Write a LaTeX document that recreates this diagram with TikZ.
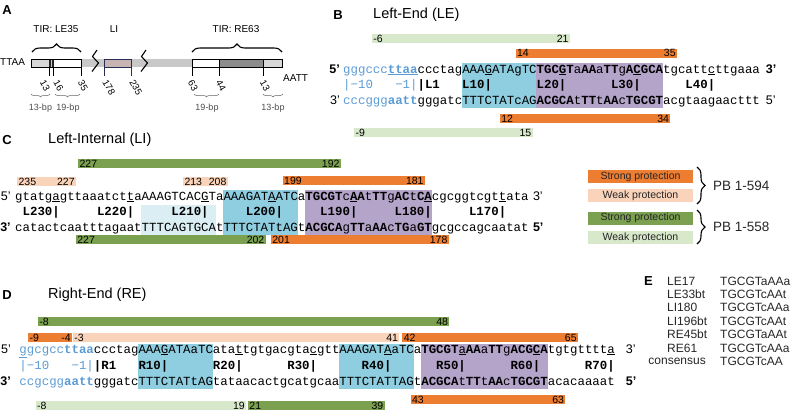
\documentclass[tikz,border=0pt]{standalone}
\usepackage{fontspec}
\setmainfont{Liberation Sans}
\setmonofont{Liberation Mono}
\usetikzlibrary{decorations.pathreplacing}

\definecolor{strongA}{RGB}{237,125,49}
\definecolor{weakA}{RGB}{250,212,186}
\definecolor{strongB}{RGB}{122,160,80}
\definecolor{weakB}{RGB}{216,232,202}
\definecolor{cyanbox}{RGB}{142,206,224}
\definecolor{palebox}{RGB}{218,238,244}
\definecolor{purplebox}{RGB}{180,164,202}
\definecolor{flank}{RGB}{91,155,213}
\definecolor{bargray}{RGB}{200,200,200}
\definecolor{boxgray}{RGB}{216,216,216}
\definecolor{segdark}{RGB}{140,140,140}
\definecolor{lifill}{RGB}{200,180,178}
\definecolor{liedge}{RGB}{40,45,85}

\newcommand\bd[1]{\textbf{#1}}
\newcommand\un[1]{\underline{#1}}
% protection bar: name, colour, from, to, top, left label, right label
\newcommand\pbbar[7]{%
  \fill[#2] (#3,#5) rectangle (#4,#5+9);
  \node[num, anchor=west] (#1a) at (#3,#5+4.5) {#6};
  \node[num, anchor=east] (#1b) at (#4,#5+4.5) {#7};}

\tikzset{
  seq/.style={font=\fontsize{12.4}{14}\selectfont\ttfamily, inner sep=0pt, anchor=base west},
  ladder/.style={seq, font=\fontsize{12.4}{14}\selectfont\ttfamily\bfseries},
  minus/.style={seq, text=flank},
  prime/.style={font=\fontsize{12.5}{14}\selectfont, inner sep=0pt},
  num/.style={font=\fontsize{10.5}{12}\selectfont, inner sep=1.2pt},
  small/.style={font=\fontsize{10}{12}\selectfont, inner sep=0pt},
  bplabel/.style={font=\fontsize{9}{11}\selectfont, inner sep=0pt, text=black!70},
  panel/.style={font=\fontsize{13}{15}\selectfont\bfseries, inner sep=0pt},
  title/.style={font=\fontsize{14.5}{17}\selectfont, inner sep=0pt, anchor=west},
  legbox/.style={minimum width=105pt, minimum height=13pt, inner sep=0pt,
    font=\fontsize{10.5}{12}\selectfont, text=black!85},
  pblabel/.style={font=\fontsize{13.5}{16}\selectfont, inner sep=0pt, anchor=west, text=black!85},
  bigbrace/.style={decorate, decoration={brace, amplitude=8pt}, line width=1.1pt},
  bpbrace/.style={decorate, decoration={brace, amplitude=3pt, mirror}, draw=black!60, line width=0.5pt},
  tablerow/.style={font=\fontsize{12}{14}\selectfont, inner sep=0pt, text=black!85},
}

\begin{document}
\begin{tikzpicture}[x=1pt, y=-1pt]
\useasboundingbox (0,0) rectangle (792,413);

% A: transposon map
\node[panel] (pA) at (7,10) {A};
\node[small] (tirL) at (56,29) {TIR: LE35};
\node[small] (liA) at (114,29) {LI};
\node[small] (tirR) at (236,29) {TIR: RE63};
\draw[bigbrace] (32,52) -- (81,52);
\draw[bigbrace] (192,52) -- (282,52);
\node[small, anchor=west] (ttaa) at (0,62) {TTAA};
\node[small, anchor=west] (aatt) at (283,78) {AATT};
\fill[bargray] (31,59) rectangle (282,67);
\fill[boxgray] (31,59) rectangle (49,67);
\fill[white] (54,59) rectangle (81,67);
\fill[black!85] (49,59) rectangle (50.6,67);
\fill[black!85] (52.4,59) rectangle (54,67);
\draw[line width=0.9pt] (31,59) rectangle (81,67);
\fill[white] (192,59) rectangle (219,67);
\fill[segdark] (219,59) rectangle (263,67);
\fill[boxgray] (263,59) rectangle (282,67);
\draw[line width=0.9pt] (192,59) rectangle (282,67) (219,59) -- (219,67) (263,59) -- (263,67);
\draw[line width=0.9pt, draw=liedge, fill=lifill] (104,59) rectangle (131,67);
\draw[line width=0.9pt] (49.8,67) -- (49.8,76) (53.2,67) -- (53.2,76) (81,67) -- (81,76)
  (192,67) -- (192,76) (219,67) -- (219,76) (263,67) -- (263,76);
\draw[line width=0.9pt, liedge] (104,67) -- (104,76) (131,67) -- (131,76);
\draw[line width=1.1pt] (97,50) -- (92.5,56.5) -- (98.5,63) -- (92,71.5);
\draw[line width=1.1pt] (146,50) -- (141.5,56.5) -- (147.5,63) -- (141,71.5);
\foreach \x/\y/\t in {45/85.5/13, 58.5/85.5/16, 83/85.5/35, 109/87.5/178, 136/87.5/235,
    193/85.5/63, 221/85.5/44, 265/85.5/13}
  \node[small, rotate=-60, font=\fontsize{9.5}{11}\selectfont] (tk\x) at (\x,\y) {\t};
\draw[bpbrace] (31,94) -- (50,94);
\draw[bpbrace] (55,94) -- (80,94);
\draw[bpbrace] (194,94) -- (219,94);
\draw[bpbrace] (263,94) -- (283,94);
\node[bplabel] (bp1) at (40.5,108) {13-bp};
\node[bplabel] (bp2) at (68,108) {19-bp};
\node[bplabel] (bp3) at (207,108) {19-bp};
\node[bplabel] (bp4) at (273,108) {13-bp};

% B: left end
\node[panel] (pB) at (338,15) {B};
\node[title] (tB) at (373,15) {Left-End (LE)};
\begin{scope}[shift={(343pt,0pt)}, x=7.44pt]
  \fill[cyanbox] (16,62.5) rectangle (26,107.5);
  \fill[purplebox] (26,62.5) rectangle (43,107.5);
  \pbbar{bw1}{weakB}{3.9}{30.5}{34}{-6}{21}
  \pbbar{bs1}{strongA}{23.2}{44.9}{48.5}{14}{35}
  \pbbar{bs2}{strongA}{21.1}{44}{114}{12}{34}
  \pbbar{bw2}{weakB}{1.5}{25.5}{128}{-9}{15}
  \node[seq] (bTop) at (0,73) {\textcolor{flank}{gggccc\bd{\un{ttaa}}}ccctagAAA\un{G}ATAgTC\bd{TGC\un{G}T}a\bd{AA}a\bd{TT}g\bd{A\un{C}GCA}tgcatt\un{c}ttgaaa};
  \node[minus] (bm10) at (0,88) {|−10};
  \node[minus] (bm1) at (7,88) {−1|};
  \node[ladder] (bl1) at (10,88) {|L1};
  \node[ladder] (bl10) at (16,88) {L10|};
  \node[ladder] (bl20) at (26,88) {L20|};
  \node[ladder] (bl30) at (36,88) {L30|};
  \node[ladder] (bl40) at (46,88) {L40|};
  \node[seq] (bBot) at (0,104) {\textcolor{flank}{cccggg\bd{aatt}}gggatcTTTCTATcAG\bd{ACGCA}t\bd{TT}t\bd{AA}c\bd{TGCGT}acgtaagaacttt};
  \node[prime, anchor=base east] (b5a) at (-0.4,73) {\bfseries 5’};
  \node[prime, anchor=base east] (b3a) at (-0.4,104) {3’};
  \node[prime, anchor=base west] (b3b) at (56.8,73) {\bfseries 3’};
  \node[prime, anchor=base west] (b5b) at (56.8,104) {5’};
\end{scope}

% C: left internal
\node[panel] (pC) at (7,140) {C};
\node[title] (tC) at (48,140) {Left-Internal (LI)};
\begin{scope}[shift={(15pt,0pt)}, x=7.44pt]
  \fill[palebox] (17,204.5) rectangle (27,234.5);
  \fill[cyanbox] (28,189.5) rectangle (38,234.5);
  \fill[purplebox] (39,189.5) rectangle (56,234.5);
  \pbbar{cs1}{strongB}{8.5}{43.8}{159}{227}{192}
  \pbbar{cw1}{weakA}{0.3}{8.2}{177}{235}{227}
  \pbbar{cw2}{weakA}{22.6}{28.6}{177}{213}{208}
  \pbbar{ca1}{strongA}{36}{55.1}{176}{199}{181}
  \pbbar{cs2}{strongB}{8.2}{33.7}{235}{227}{202}
  \pbbar{ca2}{strongA}{34.4}{58.3}{235}{201}{178}
  \node[seq] (cTop) at (0,200) {gtatg\un{a}gttaaatct\un{t}aAAAGTCAC\un{G}TaAAAGAT\un{A}ATCa\bd{TGCGT}c\bd{\un{A}A}t\bd{TT}g\bd{AC}t\bd{C\un{A}}cgcggtcgt\un{t}ata};
  \node[ladder] (cl230) at (1,215) {L230|};
  \node[ladder] (cl220) at (11,215) {L220|};
  \node[ladder] (cl210) at (21,215) {L210|};
  \node[ladder] (cl200) at (31,215) {L200|};
  \node[ladder] (cl190) at (41,215) {L190|};
  \node[ladder] (cl180) at (51,215) {L180|};
  \node[ladder] (cl170) at (61,215) {L170|};
  \node[seq] (cBot) at (0,231) {catactcaatttagaatTTTCAGTGCAtTTTCTATtAGt\bd{ACGCA}g\bd{TT}a\bd{AA}c\bd{TG}a\bd{GT}gcgccagcaatat};
  \node[prime, anchor=base east] (c5a) at (-0.55,200) {5’};
  \node[prime, anchor=base east] (c3a) at (-0.55,231) {\bfseries 3’};
  \node[prime, anchor=base west] (c3b) at (69.6,200) {3’};
  \node[prime, anchor=base west] (c5b) at (69.6,231) {\bfseries 5’};
\end{scope}

% legend
\node[legbox, fill=strongA] (k1) at (640.5,176.5) {Strong protection};
\node[legbox, fill=weakA] (k2) at (640.5,195.5) {Weak protection};
\node[legbox, fill=strongB] (k3) at (640.5,218) {Strong protection};
\node[legbox, fill=weakB] (k4) at (640.5,237.5) {Weak protection};
\draw[bigbrace] (697,167) -- (697,204);
\draw[bigbrace] (697,210) -- (697,244);
\node[pblabel] (pb594) at (713,185.5) {PB 1-594};
\node[pblabel] (pb558) at (713,227) {PB 1-558};

% D: right end
\node[panel] (pD) at (7,295) {D};
\node[title] (tD) at (48,295) {Right-End (RE)};
\begin{scope}[shift={(19.3pt,0pt)}, x=7.44pt]
  \fill[cyanbox] (16,344) rectangle (26,389);
  \fill[cyanbox] (43,344) rectangle (53,389);
  \fill[purplebox] (54,344) rectangle (71,389);
  \pbbar{ds1}{strongB}{2.5}{57.8}{317}{-8}{48}
  \pbbar{da1}{strongA}{1.2}{7.1}{333}{-9}{-4}
  \pbbar{dw1}{weakA}{7.2}{51.1}{333}{-3}{41}
  \pbbar{da2}{strongA}{51.5}{75.1}{333}{42}{65}
  \pbbar{da3}{strongA}{52.6}{73.4}{395}{43}{63}
  \pbbar{dw2}{weakB}{2.2}{30.5}{401}{-8}{19}
  \pbbar{ds2}{strongB}{30.75}{49.1}{401}{21}{39}
  \node[seq] (dTop) at (0,353) {\textcolor{flank}{\un{g}gcgcc\bd{ttaa}}ccctagAAA\un{G}ATAaTCata\un{t}tgtgacgta\un{c}gttAAAGAT\un{A}aTCa\bd{TGCGT}\un{a}\bd{AA}a\bd{TT}g\bd{ACG\un{C}A}tgtgtttt\un{a}};
  \node[minus] (dm10) at (0,369) {|−10};
  \node[minus] (dm1) at (7,369) {−1|};
  \node[ladder] (dr1) at (10,369) {|R1};
  \node[ladder] (dr10) at (16,369) {R10|};
  \node[ladder] (dr20) at (26,369) {R20|};
  \node[ladder] (dr30) at (36,369) {R30|};
  \node[ladder] (dr40) at (46,369) {R40|};
  \node[ladder] (dr50) at (56,369) {R50|};
  \node[ladder] (dr60) at (66,369) {R60|};
  \node[ladder] (dr70) at (76,369) {R70|};
  \node[seq] (dBot) at (0,385) {\textcolor{flank}{ccgcgg\bd{aatt}}gggatcTTTCTATtAGtataacactgcatgcaaTTTCTATTAGt\bd{ACGCA}t\bd{TT}t\bd{AA}c\bd{TGCGT}acacaaaat};
  \node[prime, anchor=base east] (d5a) at (-1.1,353) {5’};
  \node[prime, anchor=base east] (d3a) at (-1.1,385) {\bfseries 3’};
  \node[prime, anchor=base west] (d3b) at (81.5,353) {3’};
  \node[prime, anchor=base west] (d5b) at (81.5,385) {\bfseries 5’};
\end{scope}

% E: half-site table
\node[panel] (pE) at (648.5,281) {E};
\foreach \nm/\sq [count=\i from 0] in {LE17/TGCGTaAAa, LE33bt/TGCGTcAAt, LI180/TGCGTcAAa,
    LI196bt/TGCGTcAAt, RE45bt/TGCGTaAAt, RE61/TGCGTcAAa} {
  \node[tablerow, anchor=west] (en\i) at (667,281+13.4*\i) {\nm};
  \node[tablerow, anchor=west] (es\i) at (720,281+13.4*\i) {\sq};
}
\node[tablerow, anchor=east] (enc) at (706,361.4) {consensus};
\node[tablerow, anchor=west] (esc) at (720,361.4) {TGCGTcAA};
\end{tikzpicture}
\end{document}
